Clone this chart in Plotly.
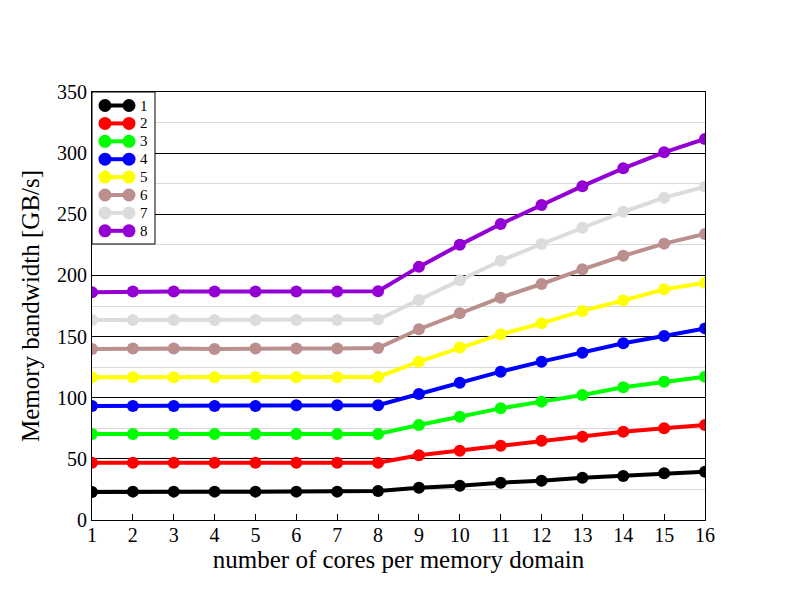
import plotly.graph_objects as go

cores = list(range(1, 17))

bw_1 = [22.9, 23.2, 23.2, 23.2, 23.2, 23.2, 23.2, 23.7, 26.4, 28.0, 30.5, 32.1, 34.6, 36.0, 38.2, 39.5]
bw_2 = [46.9, 46.9, 46.9, 46.9, 46.9, 46.9, 46.9, 46.9, 52.9, 56.7, 60.8, 64.9, 68.1, 72.2, 75.0, 77.7]
bw_3 = [70.3, 70.3, 70.3, 70.3, 70.3, 70.3, 70.3, 70.3, 77.7, 84.5, 91.3, 96.8, 102.2, 108.5, 113.1, 117.2]
bw_4 = [93.3, 93.3, 93.3, 93.3, 93.3, 93.8, 93.8, 93.8, 103.0, 112.3, 121.3, 129.5, 136.8, 144.5, 150.5, 156.7]
bw_5 = [116.8, 116.8, 116.8, 116.8, 116.8, 116.8, 116.8, 117.0, 129.5, 141.0, 151.8, 160.8, 171.0, 179.5, 188.6, 194.0]
bw_6 = [139.8, 140.3, 140.3, 139.8, 140.3, 140.3, 140.3, 140.6, 156.0, 169.0, 181.8, 193.0, 205.0, 216.0, 226.0, 233.9]
bw_7 = [163.5, 163.5, 163.5, 163.5, 163.5, 163.5, 163.5, 164.0, 180.0, 196.0, 212.0, 225.7, 239.0, 252.0, 263.6, 272.6]
bw_8 = [186.3, 186.8, 186.8, 186.8, 186.8, 186.8, 186.8, 187.0, 207.0, 225.0, 242.0, 257.6, 273.0, 287.6, 300.7, 311.6]

series_names = ["1", "2", "3", "4", "5", "6", "7", "8"]
series_values = [bw_1, bw_2, bw_3, bw_4, bw_5, bw_6, bw_7, bw_8]
series_colors = ["#000000", "#ff0000", "#00ff00", "#0000ff", "#ffff00", "#bc8f8f", "#dcdcdc", "#9400d3"]

x_ticks = list(range(1, 17))
y_ticks = [0, 50, 100, 150, 200, 250, 300, 350]

fig = go.Figure()
for name, vals, col in zip(series_names, series_values, series_colors):
    fig.add_trace(go.Scatter(
        x=cores, y=vals, name=name, mode="lines+markers",
        line=dict(color=col, width=4),
        marker=dict(color=col, size=12),
        showlegend=False,
    ))

font_family = "Liberation Serif"

# Plot area size in pixels (used to place the hand-drawn legend box)
PW, PH = 613, 428


def px(dx):
    return dx / PW


def py(dy):
    return 1 - dy / PH


# legend box (gnuplot style: two markers joined by a line, then label)
shapes = [dict(type="rect", xref="paper", yref="paper",
               x0=0, x1=px(63), y0=py(152), y1=1,
               line=dict(color="black", width=1), fillcolor="white", layer="above")]
annotations = []
for i, (name, col) in enumerate(zip(series_names, series_colors)):
    cy = 13.5 + 17.9 * i
    lx0, lx1 = 13, 37
    shapes.append(dict(type="line", xref="paper", yref="paper",
                       x0=px(lx0), x1=px(lx1), y0=py(cy), y1=py(cy),
                       line=dict(color=col, width=4), layer="above"))
    for cx in (lx0, lx1):
        shapes.append(dict(type="circle", xref="paper", yref="paper",
                           x0=px(cx - 6.5), x1=px(cx + 6.5), y0=py(cy + 6.5), y1=py(cy - 6.5),
                           line=dict(color=col, width=0), fillcolor=col, layer="above"))
    annotations.append(dict(xref="paper", yref="paper", x=px(47), y=py(cy),
                            xanchor="left", yanchor="middle", text=name, showarrow=False,
                            borderpad=0,
                            font=dict(family=font_family, size=15, color="black")))

fig.update_layout(
    width=792, height=612,
    margin=dict(l=84, r=95, t=84, b=100),
    paper_bgcolor="white", plot_bgcolor="white",
    font=dict(family=font_family, color="black", size=20),
    showlegend=False,
    shapes=shapes,
    annotations=annotations,
    xaxis=dict(
        range=[1, 16], tickvals=x_ticks, ticktext=[str(v) for v in x_ticks],
        showgrid=False, zeroline=False,
        showline=True, linecolor="black", linewidth=1, mirror=True,
        ticks="inside", ticklen=6, tickcolor="black",
        ticklabelstandoff=-3,
        title=dict(text="number of cores per memory domain", font=dict(size=25), standoff=0),
        tickfont=dict(size=20),
    ),
    yaxis=dict(
        range=[0, 350], tickvals=y_ticks, ticktext=[str(v) for v in y_ticks],
        showgrid=True, gridcolor="black", gridwidth=1,
        minor=dict(dtick=25, tick0=0, showgrid=True, gridcolor="#d9d9d9", gridwidth=1),
        zeroline=False,
        showline=True, linecolor="black", linewidth=1, mirror=True,
        ticks="",
        title=dict(text="Memory bandwidth [GB/s]", font=dict(size=25), standoff=10),
        tickfont=dict(size=20),
    ),
)

fig.write_html("out.html")
